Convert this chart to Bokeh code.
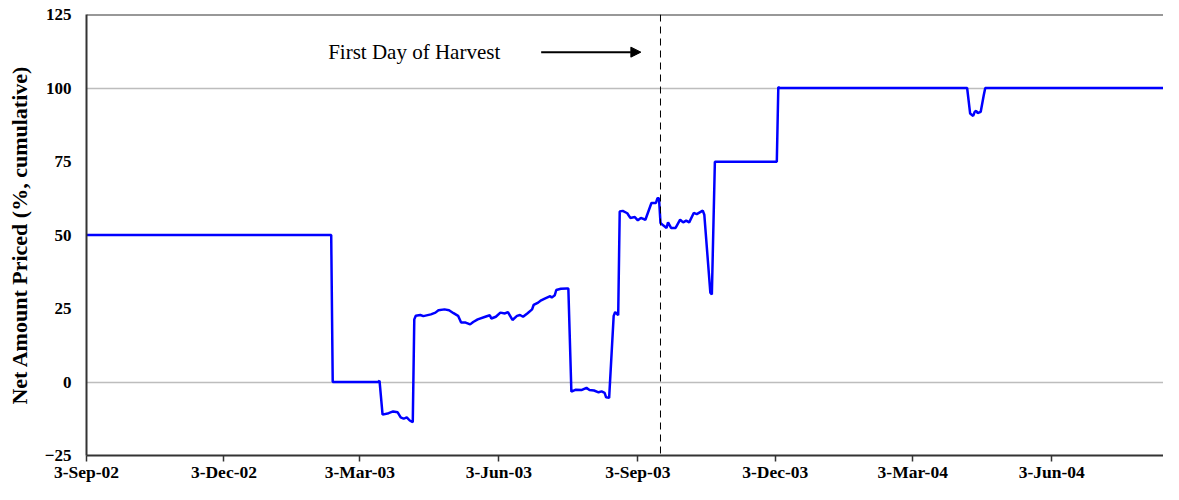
import datetime as dt
from bokeh.plotting import figure
from bokeh.models import (Range1d, FixedTicker, Span, Label, Arrow, NormalHead)
from bokeh.embed import file_html
from bokeh.resources import INLINE

# ---------------- data ----------------
dates = [
    "2002-09-03", "2003-02-12", "2003-02-13", "2003-03-15", "2003-03-16",
    "2003-03-18", "2003-03-22", "2003-03-25", "2003-03-28", "2003-03-30",
    "2003-04-01", "2003-04-03", "2003-04-05", "2003-04-07", "2003-04-08",
    "2003-04-09", "2003-04-12", "2003-04-14", "2003-04-19", "2003-04-22",
    "2003-04-24", "2003-04-28", "2003-05-01", "2003-05-04", "2003-05-07",
    "2003-05-09", "2003-05-12", "2003-05-15", "2003-05-17", "2003-05-20",
    "2003-05-25", "2003-05-28", "2003-05-29", "2003-06-01", "2003-06-04",
    "2003-06-07", "2003-06-09", "2003-06-12", "2003-06-15", "2003-06-17",
    "2003-06-19", "2003-06-22", "2003-06-25", "2003-06-26", "2003-06-29",
    "2003-07-01", "2003-07-03", "2003-07-07", "2003-07-08", "2003-07-10",
    "2003-07-11", "2003-07-14", "2003-07-18", "2003-07-19", "2003-07-21",
    "2003-07-24", "2003-07-28", "2003-07-31", "2003-08-02", "2003-08-05",
    "2003-08-08", "2003-08-10", "2003-08-12", "2003-08-13", "2003-08-15",
    "2003-08-18", "2003-08-19", "2003-08-21", "2003-08-22", "2003-08-24",
    "2003-08-27", "2003-08-29", "2003-09-01", "2003-09-03", "2003-09-05",
    "2003-09-08", "2003-09-12", "2003-09-15", "2003-09-16", "2003-09-17",
    "2003-09-18", "2003-09-20", "2003-09-22", "2003-09-23", "2003-09-25",
    "2003-09-28", "2003-10-01", "2003-10-03", "2003-10-05", "2003-10-07",
    "2003-10-10", "2003-10-12", "2003-10-16", "2003-10-17", "2003-10-21",
    "2003-10-22", "2003-10-24", "2003-12-04", "2003-12-05", "2003-12-06",
    "2004-04-08", "2004-04-10", "2004-04-12", "2004-04-13", "2004-04-14",
    "2004-04-15", "2004-04-17", "2004-04-19", "2004-04-20", "2004-08-31",
]
net_priced = [
    50, 50, 0, 0, 0.4,
    -11.1, -10.6, -10.0, -10.3, -12.0,
    -12.5, -12.0, -13.1, -13.7, 21.3,
    22.5, 22.8, 22.4, 23.0, 23.6,
    24.4, 24.7, 24.4, 23.4, 22.5,
    20.2, 20.2, 19.6, 20.4, 21.3,
    22.2, 22.7, 21.6, 22.2, 23.6,
    23.3, 23.8, 21.1, 22.5, 22.8,
    22.2, 23.4, 24.7, 26.2, 27.0,
    27.8, 28.3, 29.2, 28.7, 29.5,
    31.3, 31.7, 31.8, 31.8, -3.3,
    -2.6, -2.7, -2.0, -2.7, -2.9,
    -3.5, -3.2, -3.7, -5.2, -5.4,
    22.5, 23.8, 22.7, 58.0, 58.2,
    57.4, 55.8, 56.1, 55.0, 55.8,
    55.2, 60.9, 60.9, 62.5, 62.5,
    54.1, 53.2, 52.4, 54.3, 52.4,
    52.4, 55.2, 54.3, 54.9, 54.3,
    57.5, 57.1, 58.3, 56.9, 30.4,
    29.8, 74.9, 74.9, 100.3, 100,
    100, 91.3, 90.5, 91.9, 92.2,
    91.5, 91.9, 97.5, 100, 100,
]
tick_dates = ["2002-09-03", "2002-12-03", "2003-03-03", "2003-06-03",
              "2003-09-03", "2003-12-03", "2004-03-03", "2004-06-03"]
tick_labels = ["3-Sep-02", "3-Dec-02", "3-Mar-03", "3-Jun-03",
               "3-Sep-03", "3-Dec-03", "3-Mar-04", "3-Jun-04"]
y_ticks = [-25, 0, 25, 50, 75, 100, 125]
y_grid = [0, 100]
y_min, y_max = -25, 125
x_start, x_end = "2002-09-03", "2004-08-16"
harvest_date = "2003-09-18"
note_text = "First Day of Harvest"
note_date, note_y = "2003-02-10", 112.2
arrow_from, arrow_to, arrow_y = "2003-07-01", "2003-09-05", 112.2


def ms(s):
    d = dt.datetime.strptime(s, "%Y-%m-%d") - dt.datetime(1970, 1, 1)
    return int(d.total_seconds() * 1000)


xs = [ms(d) for d in dates]
FONT = "Liberation Serif"
FRAME = "#333333"

p = figure(width=1163, height=484, x_axis_type="datetime",
           output_backend="svg", toolbar_location=None,
           x_range=Range1d(ms(x_start), ms(x_end)),
           y_range=Range1d(y_min, y_max),
           min_border_left=86, min_border_right=0,
           min_border_top=14, min_border_bottom=27)
p.outline_line_color = None
p.background_fill_color = "white"
p.border_fill_color = "white"

# grid
p.xgrid.visible = False
p.ygrid.ticker = FixedTicker(ticks=y_grid)
p.ygrid.grid_line_color = "#bdbdbd"
p.ygrid.grid_line_width = 1.5

# x axis
xa = p.xaxis[0]
tick_ms = [ms(d) for d in tick_dates]
xa.ticker = FixedTicker(ticks=tick_ms)
xa.major_label_overrides = {t: l for t, l in zip(tick_ms, tick_labels)}
xa.major_label_text_font = FONT
xa.major_label_text_font_style = "bold"
xa.major_label_text_font_size = "17.5px"
xa.major_label_text_color = "black"
xa.major_label_standoff = 0
xa.axis_line_width = 2
xa.axis_line_color = FRAME
xa.major_tick_in = 0
xa.major_tick_out = 6
xa.major_tick_line_width = 1.5
xa.major_tick_line_color = FRAME
xa.minor_tick_line_color = None

# y axis
ya = p.yaxis[0]
ya.ticker = FixedTicker(ticks=y_ticks)
ya.major_label_text_font = FONT
ya.major_label_text_font_style = "bold"
ya.major_label_text_font_size = "17px"
ya.major_label_text_color = "black"
ya.major_label_standoff = 15
ya.axis_line_width = 2
ya.axis_line_color = FRAME
ya.major_tick_in = 0
ya.major_tick_out = 0
ya.minor_tick_line_color = None
ya.axis_label = "Net Amount Priced (%, cumulative)"
ya.axis_label_text_font = FONT
ya.axis_label_text_font_style = "bold"
ya.axis_label_text_font_size = "22px"
ya.axis_label_text_color = "black"
ya.axis_label_standoff = 10

# top frame line
p.add_layout(Span(location=y_max, dimension="width",
                  line_color=FRAME, line_width=2))

# series
p.line(xs, net_priced, line_color="#0000ff", line_width=2.5)

# harvest marker
p.add_layout(Span(location=ms(harvest_date), dimension="height",
                  line_color="black", line_width=1, line_dash="7 5"))
p.add_layout(Label(x=ms(note_date), y=note_y, text=note_text,
                   text_font=FONT, text_font_size="21px",
                   text_color="black", text_baseline="alphabetic"))
p.add_layout(Arrow(x_start=ms(arrow_from), y_start=arrow_y,
                   x_end=ms(arrow_to), y_end=arrow_y,
                   line_color="black", line_width=2,
                   end=NormalHead(size=10, fill_color="black",
                                  line_color="black", line_width=1)))

open("out.html", "w").write(file_html(p, INLINE))
